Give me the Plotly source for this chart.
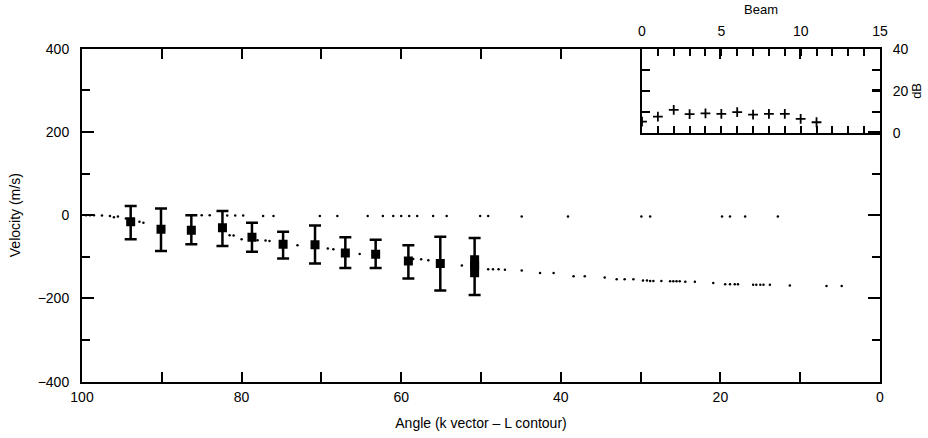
import plotly.graph_objects as go

# ---- main error-bar data ----
angle = [93.9, 90.1, 86.3, 82.4, 78.7, 74.8, 70.8, 67.0, 63.2, 59.1, 55.1, 50.8]
vel = [-16, -34, -36, -30, -53, -70, -71, -91, -94, -110, -116, -121]
err_hi = [22, 16, 0, 10, -18, -40, -25, -53, -59, -72, -52, -55]
err_lo = [-58, -86, -70, -74, -88, -104, -116, -127, -127, -152, -181, -192]

# tall box on the last point
box_angle = [50.8, 50.8]
box_vel = [-96, -149]

# ---- dotted series near zero ----
up_angle = [99.5, 99, 98.5, 97.5, 96.5, 95.5, 85, 84, 81.8, 80.8, 79.8, 77.3, 76,
            70.2, 68, 64.2, 62.3, 61, 60, 59, 58, 56, 54.3, 50.1, 49.1, 44.9, 39.1,
            29.9, 28.8, 19.8, 18.8, 16.9, 12.8]
up_vel = [0, 0, 0, -1, -2, -3, 0, 0, -1, -1, -1, -2, -2, -2, -2, -2, -2, -2, -2,
          -2, -2, -2, -2, -2, -2, -3, -3, -3, -3, -3, -3, -3, -3]

# ---- lower dotted series ----
lo_angle = [96, 94.5, 92.8, 92.3, 81.5, 81, 80, 79, 78, 77, 76.5, 73, 69.2, 68.5,
            65.2, 58.5, 57.5, 56.6, 52.4, 49.1, 48.5, 47.8, 47.0, 44.9, 42.6, 40.9,
            38.4, 37.0, 34.5, 33.0, 32.0, 30.9, 29.7, 29.2, 28.8, 28.4, 27.4, 26.3,
            25.9, 25.5, 25.1, 24.4, 23.2, 20.9, 19.4, 18.8, 18.2, 17.8, 15.9, 15.5,
            15.0, 14.6, 13.8, 11.3, 6.7, 4.8]
lo_vel = [-5, -8, -16, -18, -48, -49, -58, -59, -60, -61, -62, -72, -80, -82,
          -93, -105, -106, -108, -121, -130, -130, -130, -131, -133, -139, -139,
          -147, -147, -150, -154, -154, -154, -157, -157, -158, -158, -158, -159,
          -159, -159, -159, -160, -160, -163, -166, -166, -166, -166, -167, -167,
          -167, -167, -167, -169, -170, -170]

# ---- inset data ----
beam = [0, 1, 2, 3, 4, 5, 6, 7, 8, 9, 10, 11]
db = [5.4, 7.8, 11, 9, 9.3, 9.1, 9.9, 8.7, 9.1, 9.1, 6.7, 5.1]

FONT = "Liberation Sans, Arial, sans-serif"

fig = go.Figure()

fig.add_trace(go.Scatter(x=up_angle, y=up_vel, mode="markers",
                         marker=dict(color="black", size=2.5), xaxis="x", yaxis="y"))
fig.add_trace(go.Scatter(x=lo_angle, y=lo_vel, mode="markers",
                         marker=dict(color="black", size=2.5), xaxis="x", yaxis="y"))

plus = [h - v for h, v in zip(err_hi, vel)]
minus = [v - l for v, l in zip(vel, err_lo)]
fig.add_trace(go.Scatter(
    x=angle, y=vel, mode="markers",
    marker=dict(color="black", size=9, symbol="square"),
    error_y=dict(type="data", array=plus, arrayminus=minus, symmetric=False,
                 color="black", thickness=2.5, width=6),
    xaxis="x", yaxis="y"))
fig.add_trace(go.Scatter(x=box_angle, y=box_vel, mode="lines",
                         line=dict(color="black", width=9), xaxis="x", yaxis="y"))

fig.add_trace(go.Scatter(x=beam, y=db, mode="markers",
                         marker=dict(color="black", size=7, symbol="cross-thin",
                                     line=dict(color="black", width=1.8)),
                         xaxis="x2", yaxis="y2"))

W, H = 928, 438
x0, x1 = 82 / W, 880 / W
y0, y1 = 1 - 381.6 / H, 1 - 48.8 / H
ix0 = 642 / W
iy0 = 1 - 133 / H

tickfont = dict(family=FONT, size=14, color="black")

fig.update_layout(
    width=W, height=H,
    margin=dict(l=0, r=0, t=0, b=0, autoexpand=False),
    paper_bgcolor="white", plot_bgcolor="rgba(0,0,0,0)",
    showlegend=False,
    font=dict(family=FONT, size=14, color="black"),
    xaxis=dict(domain=[x0, x1], range=[100, 0], anchor="y", automargin=False,
               tickvals=[100, 80, 60, 40, 20, 0], ticks="inside", ticklen=10,
               tickwidth=2, tickcolor="black",
               minor=dict(tickvals=[90, 70, 50, 30, 10], ticks="inside",
                          ticklen=10, tickwidth=2, tickcolor="black"),
               showline=True, linecolor="black", linewidth=2, mirror="ticks",
               showgrid=False, zeroline=False, tickfont=tickfont,
               ticklabelstandoff=2,
               title=dict(text="Angle (k vector – L contour)", standoff=14,
                          font=dict(family=FONT, size=14))),
    yaxis=dict(domain=[y0, y1], range=[-400, 400], anchor="x", automargin=False,
               tickvals=[-400, -200, 0, 200, 400], ticks="inside", ticklen=12,
               tickwidth=2, tickcolor="black",
               minor=dict(tickvals=[-300, -100, 100, 300], ticks="inside",
                          ticklen=8, tickwidth=2, tickcolor="black"),
               showline=True, linecolor="black", linewidth=2, mirror="ticks",
               showgrid=False, zeroline=False, tickfont=tickfont,
               ticklabelstandoff=8,
               title=dict(text="Velocity (m/s)", standoff=14,
                          font=dict(family=FONT, size=14))),
    xaxis2=dict(domain=[ix0, x1], range=[0, 15], anchor="y2", side="top",
                automargin=False,
                tickvals=[0, 5, 10, 15], ticks="inside", ticklen=7, tickwidth=2,
                tickcolor="black",
                minor=dict(dtick=1, ticks="inside", ticklen=7, tickwidth=2,
                           tickcolor="black"),
                showline=True, linecolor="black", linewidth=2, mirror="ticks",
                showgrid=False, zeroline=False, tickfont=tickfont,
                ticklabelstandoff=5,
                title=dict(text="Beam", standoff=6, font=dict(family=FONT, size=13))),
    yaxis2=dict(domain=[iy0, y1], range=[0, 40], anchor="x2", side="right",
                automargin=False,
                tickvals=[0, 20, 40], ticks="inside", ticklen=8, tickwidth=2,
                tickcolor="black",
                minor=dict(tickvals=[10, 30], ticks="inside", ticklen=8,
                           tickwidth=2, tickcolor="black"),
                showline=True, linecolor="black", linewidth=2, mirror="ticks",
                showgrid=False, zeroline=False, tickfont=tickfont,
                ticklabelstandoff=8,
                title=dict(text="dB", standoff=4, font=dict(family=FONT, size=13))),
)

fig.write_html("out.html")
